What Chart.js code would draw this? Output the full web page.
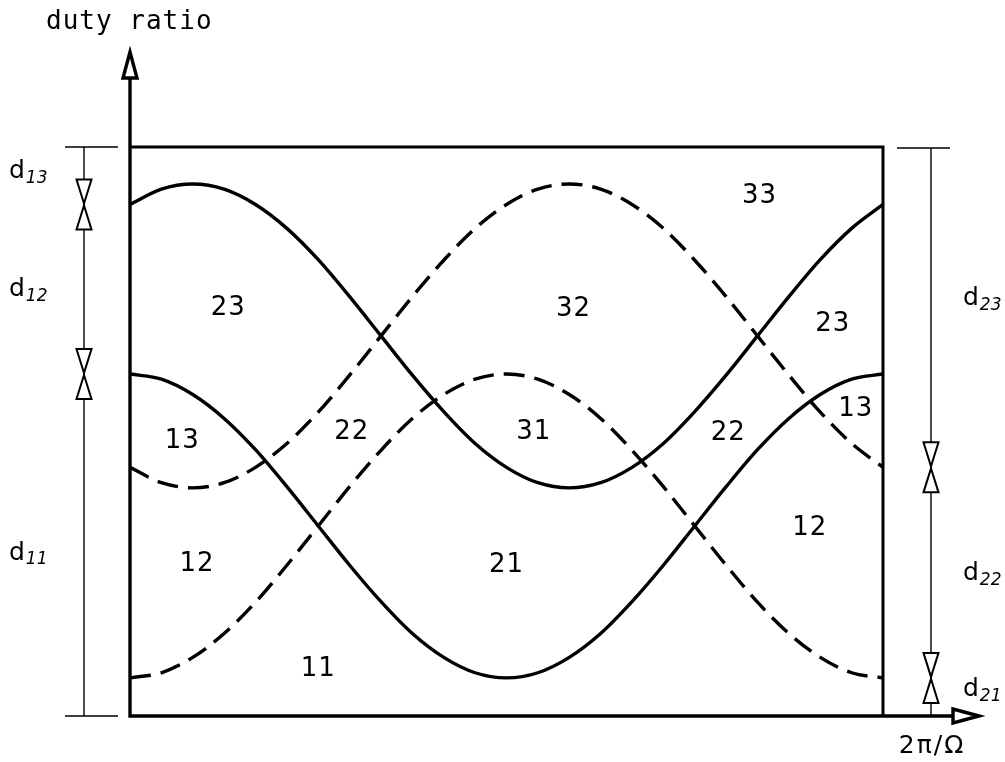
<!DOCTYPE html>
<html>
<head>
<meta charset="utf-8">
<script src="https://cdn.jsdelivr.net/npm/chart.js@4/dist/chart.umd.min.js"></script>
<style>
  html, body { margin: 0; padding: 0; background: #fff; }
  canvas { display: block; }
</style>
</head>
<body>
<canvas id="c" width="1005" height="762"></canvas>
<script>
// Phase over one period 2π/Ω, in degrees
const phaseDeg = [0, 15, 30, 45, 60, 75, 90, 105, 120, 135, 150, 165, 180,
                  195, 210, 225, 240, 255, 270, 285, 300, 315, 330, 345, 360];

// Duty ratio curves (fraction of the switching period)
const upperSolid  = [0.899, 0.926, 0.935, 0.926, 0.899, 0.857, 0.802, 0.737, 0.668, 0.599, 0.535, 0.479, 0.437,
                     0.410, 0.401, 0.410, 0.437, 0.479, 0.535, 0.599, 0.668, 0.737, 0.802, 0.857, 0.899];
const upperDashed = [0.437, 0.410, 0.401, 0.410, 0.437, 0.479, 0.534, 0.599, 0.668, 0.737, 0.801, 0.857, 0.899,
                     0.926, 0.935, 0.926, 0.899, 0.857, 0.801, 0.737, 0.668, 0.599, 0.534, 0.479, 0.437];
const lowerSolid  = [0.601, 0.592, 0.565, 0.523, 0.468, 0.403, 0.334, 0.265, 0.201, 0.145, 0.103, 0.076, 0.067,
                     0.076, 0.103, 0.145, 0.201, 0.265, 0.334, 0.403, 0.468, 0.523, 0.565, 0.592, 0.601];
const lowerDashed = [0.067, 0.076, 0.103, 0.145, 0.200, 0.265, 0.334, 0.403, 0.467, 0.523, 0.565, 0.592, 0.601,
                     0.592, 0.565, 0.523, 0.467, 0.403, 0.334, 0.265, 0.200, 0.145, 0.103, 0.076, 0.067];

// Switching-state names of the regions between the curves
const regionNames = ['33', '32', '23', '13', '31', '22', '23', '13', '22', '12', '21', '11', '12'];
// Where each region name sits, as [phase, duty]
const regionAt = [[301, 0.916], [212, 0.717], [336, 0.691], [347, 0.541], [193, 0.501], [286, 0.499],
                  [47, 0.719], [25, 0.485], [106, 0.501], [32, 0.269], [180, 0.267], [90, 0.084], [325, 0.332]];

// Dimension names along both sides: [letter, subscript]
const leftDims  = [['d', '13'], ['d', '12'], ['d', '11']];
const rightDims = [['d', '23'], ['d', '22'], ['d', '21']];

const ink = '#000';

function points(vals) {
  return vals.map((v, i) => ({ x: phaseDeg[i], y: v }));
}

function curve(vals, dashed) {
  return {
    data: points(vals),
    borderColor: ink,
    borderWidth: 3.4,
    borderDash: dashed ? [21, 10] : [],
    pointRadius: 0,
    cubicInterpolationMode: 'monotone',
    fill: false
  };
}

// Frame, arrows, dimension lines and all text
const drawing = {
  id: 'drawing',
  afterDatasetsDraw(chart) {
    const { ctx, scales: { x, y } } = chart;
    const L = x.getPixelForValue(0), R = x.getPixelForValue(360);
    const T = y.getPixelForValue(1), B = y.getPixelForValue(0);

    ctx.save();
    ctx.strokeStyle = ink;
    ctx.fillStyle = ink;
    ctx.lineCap = 'butt';
    ctx.lineJoin = 'miter';

    function tri(p1, p2, p3, lw) {
      ctx.beginPath();
      ctx.moveTo(p1[0], p1[1]);
      ctx.lineTo(p2[0], p2[1]);
      ctx.lineTo(p3[0], p3[1]);
      ctx.closePath();
      ctx.fillStyle = '#fff';
      ctx.fill();
      ctx.lineWidth = lw;
      ctx.stroke();
      ctx.fillStyle = ink;
    }

    // box: top and right edges
    ctx.lineWidth = 3;
    ctx.beginPath();
    ctx.moveTo(L, T);
    ctx.lineTo(R, T);
    ctx.lineTo(R, B);
    ctx.stroke();

    // axes with open arrowheads
    const yTip = T - 95, yBase = T - 69;
    const xBase = R + 70, xTip = R + 96;
    ctx.lineWidth = 3.4;
    ctx.beginPath();
    ctx.moveTo(L, B + 1.7);
    ctx.lineTo(L, yBase);
    ctx.moveTo(L - 1.7, B);
    ctx.lineTo(xBase, B);
    ctx.stroke();
    tri([L, yTip], [L - 7, yBase], [L + 7, yBase], 3.4);
    tri([xTip, B], [xBase, B - 7], [xBase, B + 7], 3.4);

    // dimension lines
    function bowtie(cx, cy) {
      tri([cx, cy - 1], [cx - 7.5, cy - 25], [cx + 7.5, cy - 25], 2);
      tri([cx, cy + 1], [cx - 7.5, cy + 25], [cx + 7.5, cy + 25], 2);
    }

    const dl = L - 46, dr = R + 48;
    ctx.lineWidth = 1.4;
    ctx.beginPath();
    ctx.moveTo(L - 65, T); ctx.lineTo(L - 12, T);
    ctx.moveTo(L - 65, B); ctx.lineTo(L - 12, B);
    ctx.moveTo(dl, T); ctx.lineTo(dl, B);
    ctx.moveTo(R + 14, T + 1); ctx.lineTo(R + 67, T + 1);
    ctx.moveTo(dr, T + 1); ctx.lineTo(dr, B);
    ctx.stroke();

    const last = phaseDeg.length - 1;
    const leftCuts  = [1, upperSolid[0], lowerSolid[0], 0];
    const rightCuts = [1, upperDashed[last], lowerDashed[last], 0];
    bowtie(dl, y.getPixelForValue(leftCuts[1]));
    bowtie(dl, y.getPixelForValue(leftCuts[2]));
    bowtie(dr, y.getPixelForValue(rightCuts[1]));
    bowtie(dr, y.getPixelForValue(rightCuts[2]));

    function dimLabel(name, sx, sy) {
      ctx.textAlign = 'left';
      ctx.textBaseline = 'middle';
      ctx.font = '25px "DejaVu Sans"';
      ctx.fillText(name[0], sx, sy);
      const w = ctx.measureText(name[0]).width;
      ctx.font = 'italic 17px "DejaVu Sans"';
      ctx.fillText(name[1], sx + w + 1, sy + 7);
    }
    const leftShift = [0, 4, 12], rightShift = [-5, 5, -3];
    leftDims.forEach((n, i) => {
      const mid = (y.getPixelForValue(leftCuts[i]) + y.getPixelForValue(leftCuts[i + 1])) / 2;
      dimLabel(n, 9, mid + leftShift[i] - 4);
    });
    rightDims.forEach((n, i) => {
      const mid = (y.getPixelForValue(rightCuts[i]) + y.getPixelForValue(rightCuts[i + 1])) / 2;
      dimLabel(n, R + 80, mid + rightShift[i] - 4);
    });

    // region names
    ctx.font = '26px "DejaVu Sans"';
    ctx.textAlign = 'center';
    ctx.textBaseline = 'middle';
    ctx.letterSpacing = '1px';
    regionNames.forEach((t, i) => {
      ctx.fillText(t, x.getPixelForValue(regionAt[i][0]), y.getPixelForValue(regionAt[i][1]) + 1);
    });

    // axis titles
    ctx.font = '26px "DejaVu Sans Mono"';
    ctx.textAlign = 'left';
    ctx.letterSpacing = '1px';
    ctx.fillText('duty ratio', 46, 22);
    ctx.font = '25px "DejaVu Sans"';
    ctx.textAlign = 'center';
    ctx.letterSpacing = '2px';
    ctx.fillText('2π/Ω', dr + 1, 746);
    ctx.restore();
  }
};

new Chart(document.getElementById('c'), {
  type: 'line',
  data: {
    datasets: [
      curve(upperSolid, false),
      curve(upperDashed, true),
      curve(lowerSolid, false),
      curve(lowerDashed, true)
    ]
  },
  options: {
    responsive: false,
    animation: false,
    devicePixelRatio: 1,
    events: [],
    layout: { padding: { left: 130, right: 122, top: 147, bottom: 46 } },
    plugins: { legend: { display: false }, tooltip: { enabled: false } },
    scales: {
      x: { type: 'linear', min: 0, max: 360, display: false },
      y: { type: 'linear', min: 0, max: 1, display: false }
    }
  },
  plugins: [drawing]
});
</script>
</body>
</html>
